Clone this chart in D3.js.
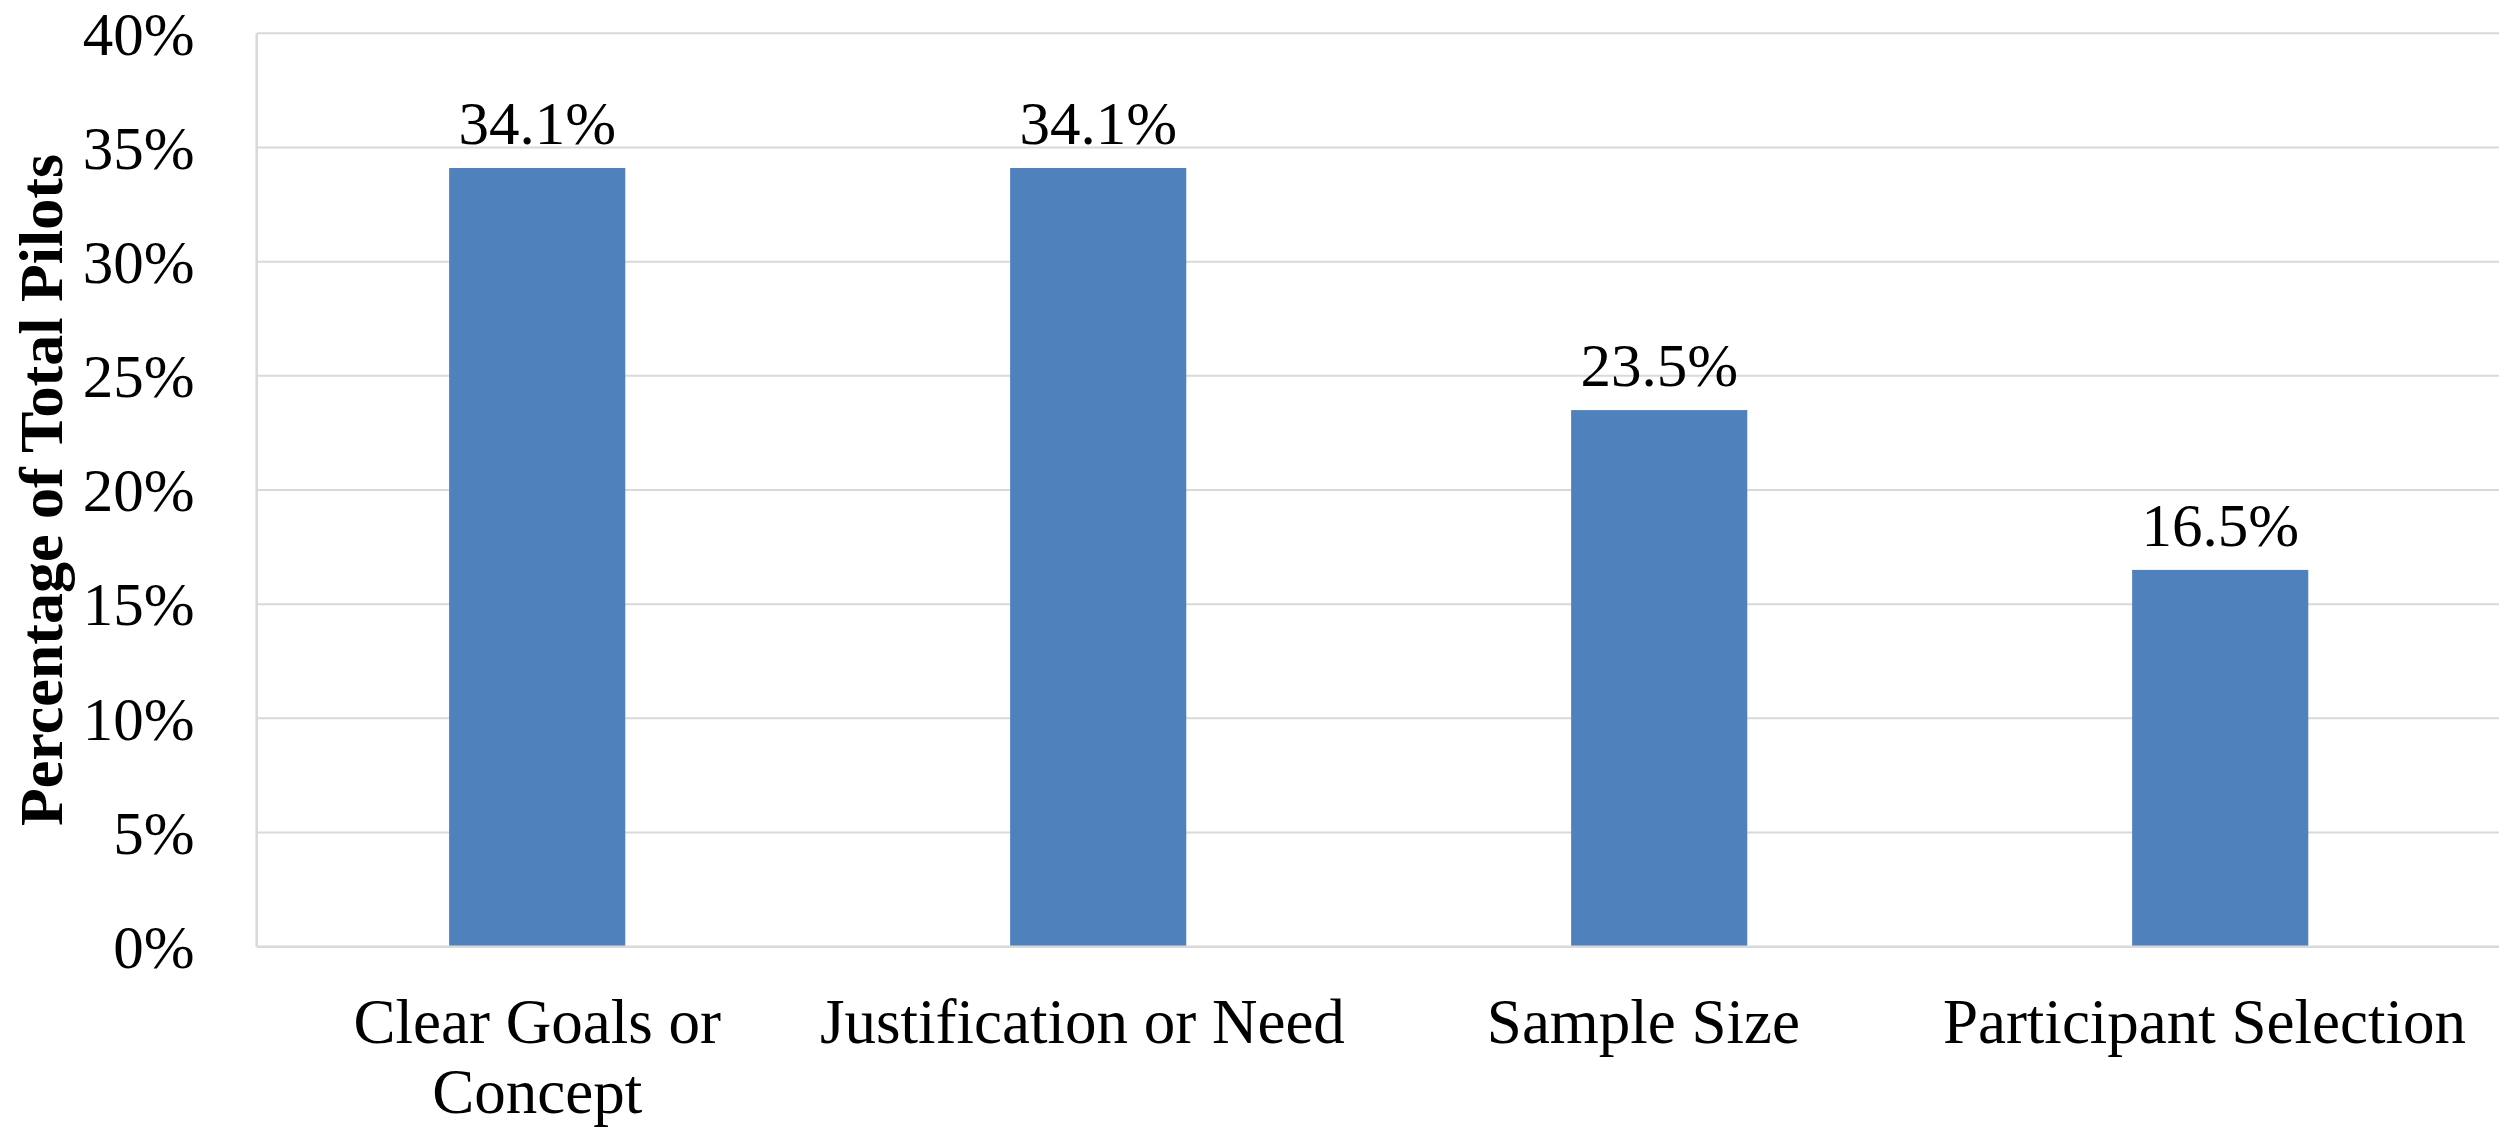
<!DOCTYPE html>
<html>
<head>
<meta charset="utf-8">
<script src="https://cdn.jsdelivr.net/npm/d3@7"></script>
<style>
  html, body { margin: 0; padding: 0; background: #fff; }
  svg { display: block; }
  text { font-family: "Liberation Serif", "Times New Roman", serif; fill: #000; }
  .cat { white-space: pre; }
</style>
</head>
<body>
<svg id="chart" width="2499" height="1128"></svg>
<script>
// Share of pilots by issue
const categories = ["Clear Goals or Concept", "Justification or Need", "Sample Size", "Participant Selection"];
// label text as entered in the source sheet (some entries carry trailing spaces)
const categoryLines = [["Clear Goals or", "Concept"], ["Justification or Need  "], ["Sample Size  "], ["Participant Selection  "]];
const values = [0.341, 0.341, 0.235, 0.165];
const yTicks = [0, 0.05, 0.10, 0.15, 0.20, 0.25, 0.30, 0.35, 0.40];
const yTitle = "Percentage of Total Pilots";

const W = 2499, H = 1128;
const plot = { left: 256.7, right: 2500.7, top: 33.3, bottom: 946.7 };

const svg = d3.select("#chart");

const x = d3.scaleBand()
  .domain(categories)
  .range([plot.left, plot.right])
  .paddingInner(0.686)
  .paddingOuter(0.343);

const y = d3.scaleLinear()
  .domain([0, 0.4])
  .range([plot.bottom, plot.top]);

const pct = d3.format(".0%");
const pct1 = d3.format(".1%");

// horizontal gridlines
svg.append("g")
  .selectAll("line")
  .data(yTicks.filter(d => d > 0))
  .join("line")
  .attr("x1", plot.left)
  .attr("x2", W)
  .attr("y1", d => y(d))
  .attr("y2", d => y(d))
  .attr("stroke", "#d9d9d9")
  .attr("stroke-width", 2);

// y axis: labels only, plus the vertical rule
const yAxis = d3.axisLeft(y)
  .tickValues(yTicks)
  .tickFormat(pct)
  .tickSize(0)
  .tickPadding(62);

const yg = svg.append("g")
  .attr("transform", `translate(${plot.left},0)`)
  .call(yAxis);
yg.select(".domain").remove();
yg.selectAll("text")
  .attr("font-size", 61)
  .attr("font-family", "'Liberation Serif', 'Times New Roman', serif")
  .attr("fill", "#000")
  .attr("dy", "0.34em");

svg.append("line")
  .attr("x1", plot.left).attr("x2", plot.left)
  .attr("y1", plot.top).attr("y2", plot.bottom)
  .attr("stroke", "#d9d9d9")
  .attr("stroke-width", 2.5);

// bars
svg.append("g")
  .selectAll("rect")
  .data(values)
  .join("rect")
  .attr("x", (d, i) => x(categories[i]))
  .attr("y", d => y(d))
  .attr("width", x.bandwidth())
  .attr("height", d => y(0) - y(d))
  .attr("fill", "#4f81bd");

// x axis baseline
svg.append("line")
  .attr("x1", plot.left).attr("x2", W)
  .attr("y1", plot.bottom).attr("y2", plot.bottom)
  .attr("stroke", "#d9d9d9")
  .attr("stroke-width", 2.5);

// value labels above bars
svg.append("g")
  .selectAll("text")
  .data(values)
  .join("text")
  .attr("x", (d, i) => x(categories[i]) + x.bandwidth() / 2)
  .attr("y", d => y(d) - 24)
  .attr("text-anchor", "middle")
  .attr("font-size", 61)
  .text(d => pct1(d));

// category labels (may wrap onto two lines)
const catG = svg.append("g")
  .selectAll("text")
  .data(categories)
  .join("text")
  .attr("class", "cat")
  .attr("text-anchor", "middle")
  .attr("font-size", 63)
  .attr("x", d => x(d) + x.bandwidth() / 2)
  .attr("y", 1043);

catG.each(function(d, i) {
  const t = d3.select(this);
  categoryLines[i].forEach((line, j) => {
    t.append("tspan")
      .attr("x", x(d) + x.bandwidth() / 2)
      .attr("dy", j === 0 ? 0 : 70)
      .text(line);
  });
});

// y axis title
svg.append("text")
  .attr("transform", `translate(62,${(plot.top + plot.bottom) / 2}) rotate(-90)`)
  .attr("text-anchor", "middle")
  .attr("font-size", 62)
  .attr("font-weight", "bold")
  .text(yTitle);
</script>
</body>
</html>
